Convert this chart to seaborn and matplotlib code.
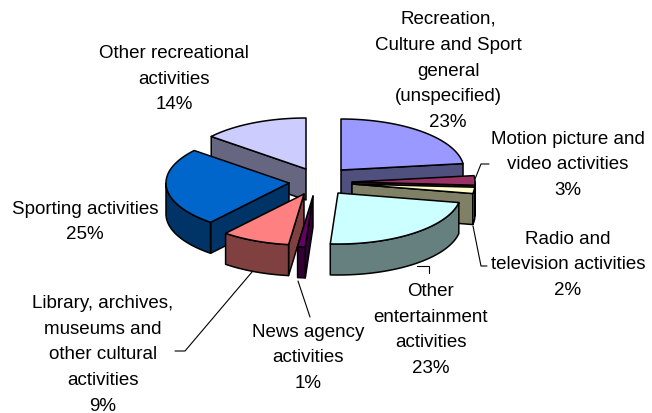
import numpy as np
import matplotlib.pyplot as plt
import matplotlib.patches as mpatches
import seaborn as sns

# 3d looking exploded pie, seaborn has no pie so the faces are drawn as patches
names = ["Recreation,\nCulture and Sport\ngeneral\n(unspecified)", "Motion picture and\nvideo activities",
         "Radio and\ntelevision activities", "Other\nentertainment\nactivities", "News agency\nactivities",
         "Library, archives,\nmuseums and\nother cultural\nactivities", "Sporting activities",
         "Other recreational\nactivities"]
shares = [23, 3, 2, 23, 1, 9, 25, 14]

top_colors = ["#9999FF", "#993366", "#FFFFCC", "#CCFFFF", "#660066", "#FF8080", "#0066CC", "#CCCCFF"]
side_colors = ["#50507F", "#4D1A33", "#808066", "#668080", "#330033", "#804040", "#003366", "#666680"]

# layout in pixels
apex_x = [341, 352, 352, 338, 313, 304, 289, 306]
apex_y = [171, 183, 185, 194, 197, 195, 184, 170]
label_x = [448, 568, 568, 431, 308, 103, 85, 174]
label_y = [71, 165, 265, 330, 358, 355, 222, 79]
rx, ry, depth = 123, 51, 31
draw_order = [0, 7, 1, 2, 6, 3, 5, 4]

leaders = [[(475, 180), (481, 165), (489, 165)],
           [(473, 227), (481, 267), (487, 267)],
           [(417, 267), (429, 267), (429, 274)],
           [(298, 282), (310, 318)],
           [(252, 273), (185, 352), (175, 352)]]

sns.set_theme(style="white")
plt.rcParams["font.family"] = ["Liberation Sans", "DejaVu Sans"]

fig, ax = plt.subplots(figsize=(6.52, 4.14), dpi=100)
ax.set_position([0, 0, 1, 1])
ax.set_xlim(0, 652)
ax.set_ylim(414, 0)
ax.axis("off")


def rim(cx, cy, a, b):
    t = np.radians(np.linspace(a, b, max(int(b - a), 2) + 1))
    return np.column_stack([cx + rx * np.sin(t), cy - ry * np.cos(t)])


def face(pts, color):
    ax.add_patch(mpatches.Polygon(pts, closed=True, facecolor=color, edgecolor="black", lw=1.1, joinstyle="round"))


ends = np.cumsum(shares) / np.sum(shares) * 360
starts = np.r_[0, ends[:-1]]
shift = np.array([0, depth])

for i in draw_order:
    a, b = starts[i], ends[i]
    c = np.array([apex_x[i], apex_y[i]])
    for ang, visible in [(a, np.sin(np.radians(a)) < 0), (b, np.sin(np.radians(b)) > 0)]:
        if visible:
            edge = rim(c[0], c[1], ang, ang + 1)[0]
            face([c, edge, edge + shift, c + shift], side_colors[i])
    lo, hi = max(a, 90), min(b, 270)
    if lo < hi:
        arc = rim(c[0], c[1], lo, hi)
        face(np.vstack([arc, (arc + shift)[::-1]]), side_colors[i])
    face(np.vstack([c, rim(c[0], c[1], a, b)]), top_colors[i])

for line in leaders:
    pts = np.array(line)
    ax.plot(pts[:, 0], pts[:, 1], color="black", lw=0.8)

for i in range(len(names)):
    ax.text(label_x[i], label_y[i], f"{names[i]}\n{shares[i]}%", ha="center", va="center",
            fontsize=13.5, linespacing=1.68, color="black")

fig.savefig("out.png", dpi=100)
